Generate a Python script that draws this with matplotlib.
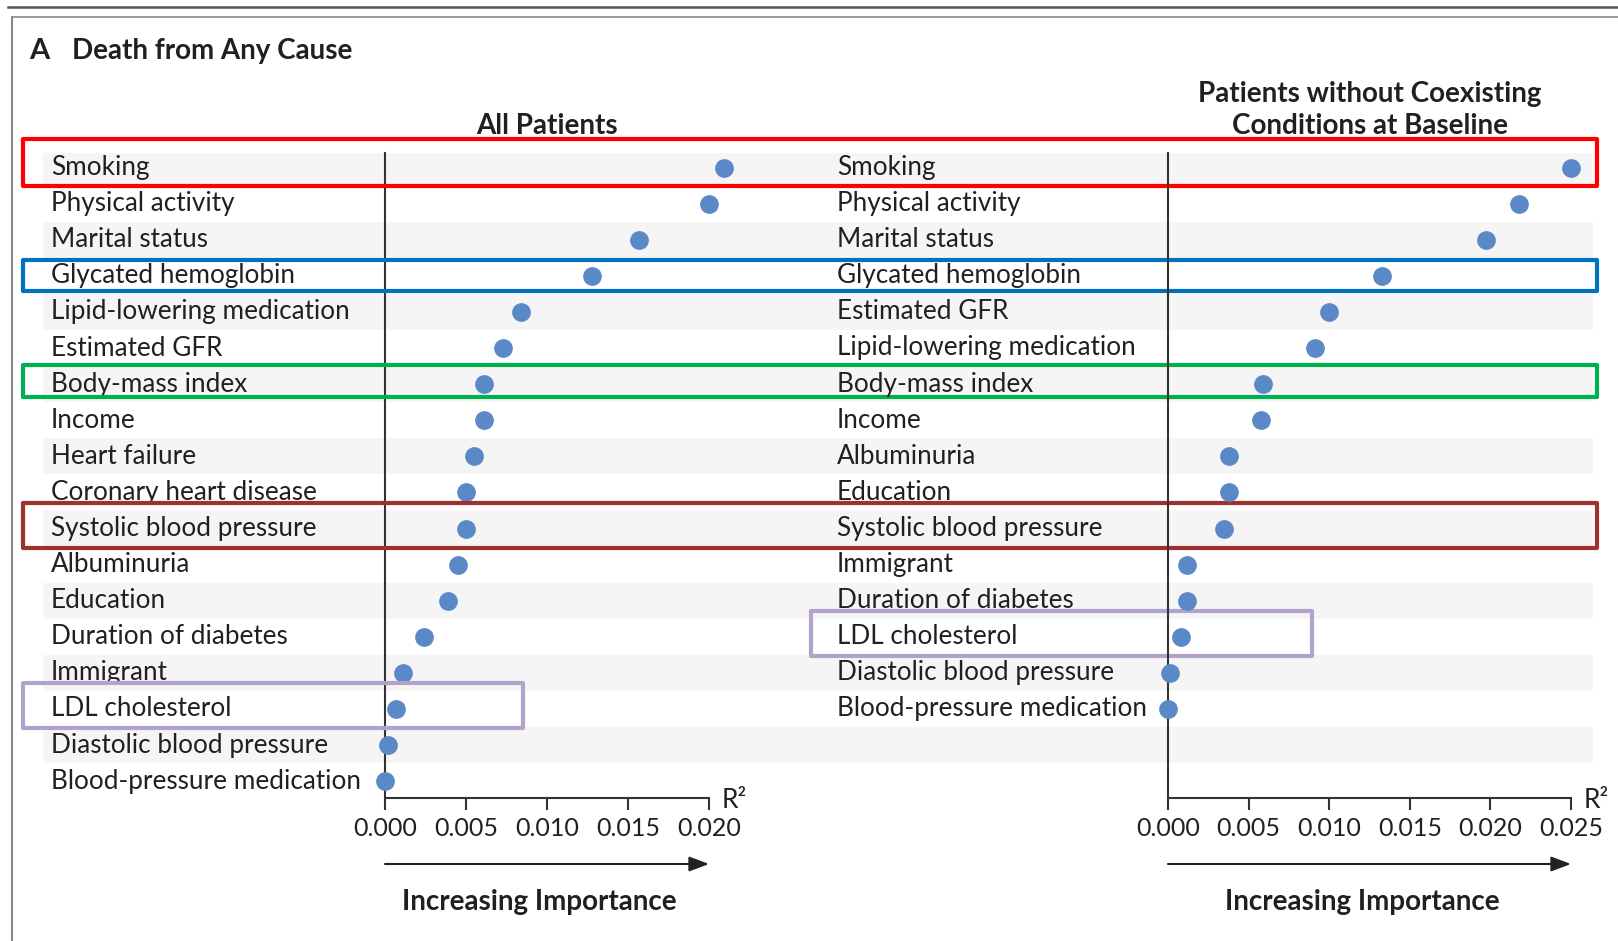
import matplotlib
matplotlib.use("Agg")
from matplotlib import pyplot as plt
from matplotlib.patches import Rectangle
from matplotlib.lines import Line2D
from matplotlib.transforms import blended_transform_factory
import numpy as np

plt.rcParams['font.family'] = ['Lato', 'DejaVu Sans']

# All patients (R2)
all_labels = ["Smoking", "Physical activity", "Marital status", "Glycated hemoglobin",
              "Lipid-lowering medication", "Estimated GFR", "Body-mass index", "Income",
              "Heart failure", "Coronary heart disease", "Systolic blood pressure",
              "Albuminuria", "Education", "Duration of diabetes", "Immigrant",
              "LDL cholesterol", "Diastolic blood pressure", "Blood-pressure medication"]
all_values = [0.0209, 0.0200, 0.0157, 0.0128, 0.0084, 0.0073, 0.0061, 0.0061,
              0.0055, 0.0050, 0.0050, 0.0045, 0.0039, 0.0024, 0.0011, 0.0007,
              0.0002, 0.0000]

# Patients without coexisting conditions at baseline (R2)
sub_labels = ["Smoking", "Physical activity", "Marital status", "Glycated hemoglobin",
              "Estimated GFR", "Lipid-lowering medication", "Body-mass index", "Income",
              "Albuminuria", "Education", "Systolic blood pressure", "Immigrant",
              "Duration of diabetes", "LDL cholesterol", "Diastolic blood pressure",
              "Blood-pressure medication"]
sub_values = [0.0250, 0.0218, 0.0197, 0.0133, 0.0100, 0.0091, 0.0059, 0.0058,
              0.0038, 0.0038, 0.0035, 0.0012, 0.0012, 0.0008, 0.0001, 0.0000]

left_ticks = [0.000, 0.005, 0.010, 0.015, 0.020]
right_ticks = [0.000, 0.005, 0.010, 0.015, 0.020, 0.025]

# highlight boxes: (panel, label, colour)
highlights = [("both", "Smoking", "#ff0000"),
              ("both", "Glycated hemoglobin", "#0070c0"),
              ("both", "Body-mass index", "#00b050"),
              ("both", "Systolic blood pressure", "#a0302e"),
              ("left", "LDL cholesterol", "#b3a2cc"),
              ("right", "LDL cholesterol", "#b3a2cc")]

W, H = 1618, 941
TXT = "#231f20"
DOT = "#5b89c8"
n_rows = len(all_labels)
row0, row_h = 167.5, 36.1
top_px, bot_px = 153, 798
ylim = ((bot_px - row0) / row_h, (top_px - row0) / row_h)

fig = plt.figure(figsize=(W / 100, H / 100), dpi=100)


def fx(x):
    return x / W


def fy(y):
    return 1 - y / H


def make_axes(x0, x1):
    return fig.add_axes([fx(x0), fy(bot_px), fx(x1 - x0), (bot_px - top_px) / H])


# background stripes
bg = make_axes(43, 1593)
bg.set_zorder(0)
bg.set_xlim(0, 1)
bg.set_ylim(*ylim)
for i in range(0, n_rows, 2):
    bg.axhspan(i - 0.5, i + 0.5, color="#f5f5f5", lw=0)
bg.axis("off")


def panel(x0, x1, labels, values, ticks, label_x):
    ax = make_axes(x0, x1)
    ax.set_zorder(1)
    ax.patch.set_visible(False)
    ax.set_xlim(ticks[0], ticks[-1])
    ax.set_ylim(*ylim)
    y = np.arange(len(labels))
    ax.plot(values, y, "o", color=DOT, ms=13.5, mec="none", zorder=3, clip_on=False)
    for s in ["top", "right"]:
        ax.spines[s].set_visible(False)
    for s in ["left", "bottom"]:
        ax.spines[s].set_linewidth(1.5)
        ax.spines[s].set_color("#333333")
    ax.set_yticks([])
    ax.set_xticks(ticks)
    ax.set_xticklabels([f"{t:.3f}" for t in ticks])
    ax.tick_params(axis="x", direction="out", length=8.5, width=1.5, color="#333333",
                   labelsize=18, labelcolor=TXT, pad=5)
    tr = blended_transform_factory(fig.transFigure, ax.transData)
    for i, lab in enumerate(labels):
        ax.text(fx(label_x), i, lab, transform=tr, ha="left", va="center",
                fontsize=18.8, color=TXT)
    # R2 and arrow
    ax.annotate("R²", xy=(1.0, 0.0), xycoords="axes fraction", xytext=(9, -2),
                textcoords="offset points", ha="left", va="center",
                fontsize=19, color=TXT)
    ax.annotate("", xy=(1.0, fy(864)), xytext=(0.0, fy(864)),
                xycoords=blended_transform_factory(ax.transAxes, fig.transFigure),
                arrowprops=dict(arrowstyle="-|>,head_length=1.2,head_width=0.45",
                                color="#222222", lw=1.5, shrinkA=0, shrinkB=0))
    return ax, tr


axL, trL = panel(385, 709, all_labels, all_values, left_ticks, 51)
axR, trR = panel(1168, 1571, sub_labels, sub_values, right_ticks, 837)

# highlight rectangles
box_x = {"both": (23, 1597), "left": (23, 523), "right": (811, 1312)}
box_off = {"Smoking": (-0.8, 0.5), "Glycated hemoglobin": (-0.45, 0.42),
           "Body-mass index": (-0.54, 0.35), "Systolic blood pressure": (-0.72, 0.54),
           "LDL cholesterol": (-0.72, 0.54)}
for where, lab, col in highlights:
    row = all_labels.index(lab) if where != "right" else sub_labels.index(lab)
    x0, x1 = box_x[where]
    a, b = box_off[lab]
    rect = Rectangle((fx(x0), row + a), fx(x1 - x0), b - a, transform=trL,
                     fill=False, ec=col, lw=3, joinstyle="round", zorder=5, clip_on=False)
    axL.add_artist(rect)

# titles
fig.text(fx(29), fy(51), "A", fontsize=21, fontweight="bold", color=TXT, va="center")
fig.text(fx(72), fy(51), "Death from Any Cause", fontsize=20, fontweight="bold",
         color=TXT, va="center")
fig.text(fx(547), fy(126), "All Patients", fontsize=20, fontweight="bold", color=TXT,
         ha="center", va="center")
fig.text(fx(1370), fy(110), "Patients without Coexisting\nConditions at Baseline",
         fontsize=20, fontweight="bold", color=TXT, ha="center", va="center",
         linespacing=1.3)
fig.text(fx(539), fy(902), "Increasing Importance", fontsize=20, fontweight="bold",
         color=TXT, ha="center", va="center")
fig.text(fx(1362), fy(902), "Increasing Importance", fontsize=20, fontweight="bold",
         color=TXT, ha="center", va="center")

# frame
fig.add_artist(Line2D([fx(8), 1], [fy(7), fy(7)], color="#555555", lw=1.8))
fig.add_artist(Line2D([fx(12), 1], [fy(17), fy(17)], color="#888888", lw=1.2))
fig.add_artist(Line2D([fx(12), fx(12)], [fy(17), 0], color="#888888", lw=1.5))

fig.savefig("out.png", dpi=100)
